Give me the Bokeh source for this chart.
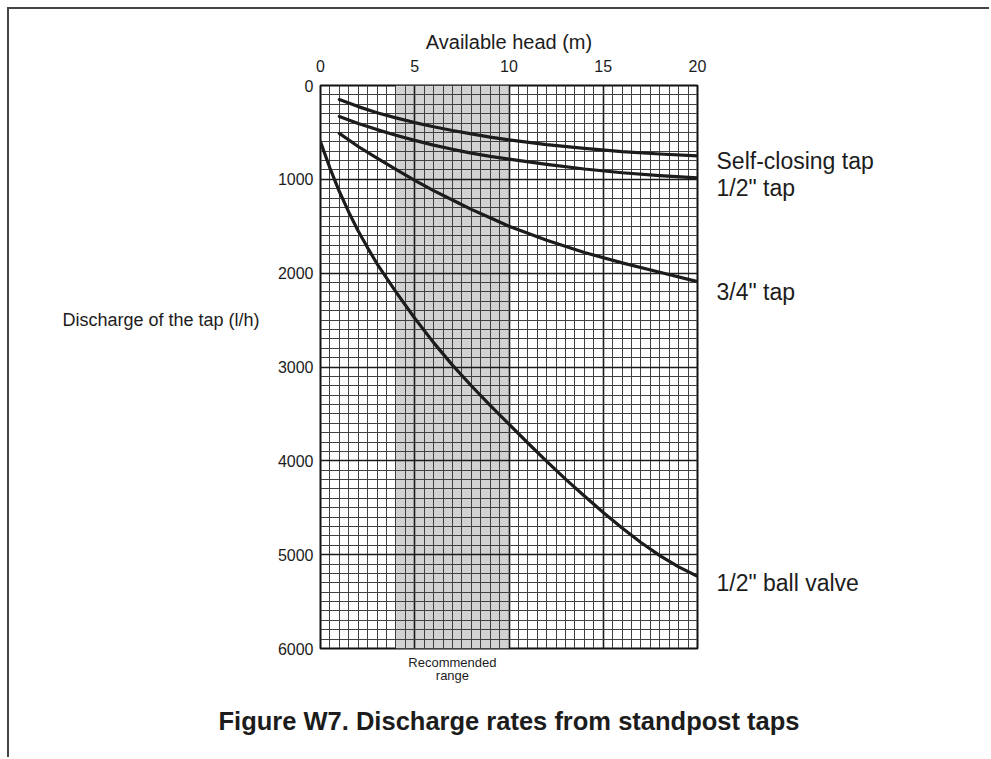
from bokeh.plotting import figure
from bokeh.models import Range1d, SingleIntervalTicker, FixedTicker, LinearAxis, Title
from bokeh.embed import file_html
from bokeh.resources import INLINE

# ---- data ----
x_ticks = [0, 5, 10, 15, 20]
y_ticks = [0, 1000, 2000, 3000, 4000, 5000, 6000]
x_limits = [0, 20]
y_limits = [0, 6000]
recommended = [4, 10]

tap_x = [1, 2, 3, 4, 5, 6, 7, 8, 9, 10, 12, 14, 16, 18, 20]
self_closing = [150, 225, 290, 345, 395, 440, 480, 515, 550, 580, 630, 670, 705, 730, 750]
half_tap = [330, 405, 470, 530, 585, 635, 680, 720, 755, 785, 840, 890, 930, 960, 985]
three_q_tap = [510, 650, 775, 895, 1010, 1120, 1220, 1320, 1410, 1500, 1650, 1780, 1890, 1990, 2090]

ball_x = [0, 0.5, 1, 1.5, 2, 2.5, 3, 4, 5, 6, 7, 8, 9, 10, 11, 12, 13, 14, 15, 16, 17, 18, 19, 20]
ball_valve = [600, 880, 1130, 1350, 1550, 1730, 1900, 2200, 2480, 2740, 2980, 3200, 3410, 3610,
              3810, 4005, 4195, 4375, 4550, 4715, 4870, 5010, 5130, 5230]

series_names = ["Self-closing tap", '1/2" tap', '3/4" tap', '1/2" ball valve']
label_y = [800, 1090, 2200, 5300]
y_title = "Discharge of the tap (l/h)"
y_title_pos = [2500]
note = "Recommended\nrange"
caption = "Figure W7. Discharge rates from standpost taps"

FONT = "Liberation Sans"
INK = "#1c1c1c"

p = figure(width=982, height=750, output_backend="svg", toolbar_location=None,
           x_range=Range1d(*x_limits), y_range=Range1d(y_limits[1], y_limits[0]),
           x_axis_location="above",
           min_border_left=311, min_border_right=294, min_border_top=76, min_border_bottom=111)
p.styles = {"margin-left": "7px", "margin-top": "7px",
            "border-left": "2px solid #444", "border-top": "2px solid #444"}
p.background_fill_color = "white"
p.border_fill_color = "white"
p.outline_line_color = "#111"
p.outline_line_width = 2

# grids
p.xgrid.ticker = SingleIntervalTicker(interval=5, num_minor_ticks=10)
p.ygrid.ticker = SingleIntervalTicker(interval=1000, num_minor_ticks=10)
for g in (p.xgrid, p.ygrid):
    g.grid_line_color = "#1a1a1a"
    g.grid_line_width = 1.6
    g.minor_grid_line_color = "#404040"
    g.minor_grid_line_width = 1


def plain(ax, size="16px"):
    ax.axis_line_color = None
    ax.major_tick_line_color = None
    ax.minor_tick_line_color = None
    ax.major_tick_out = 0
    ax.major_tick_in = 0
    ax.minor_tick_out = 0
    ax.minor_tick_in = 0
    ax.major_label_text_font = FONT
    ax.major_label_text_font_size = size
    ax.major_label_text_color = INK


# main axes
p.xaxis.ticker = x_ticks
p.yaxis.ticker = y_ticks
plain(p.xaxis[0])
plain(p.yaxis[0])
p.xaxis.major_label_standoff = 14
p.yaxis.major_label_standoff = 7
p.xaxis.axis_label = "Available head (m)"
p.xaxis.axis_label_text_font = FONT
p.xaxis.axis_label_text_font_size = "20px"
p.xaxis.axis_label_text_font_style = "normal"
p.xaxis.axis_label_text_color = INK
p.xaxis.axis_label_standoff = 4

# curve names on the right, as an axis of labels
right_ax = LinearAxis(ticker=FixedTicker(ticks=label_y),
                      major_label_overrides={v: n for v, n in zip(label_y, series_names)})
plain(right_ax, "23px")
right_ax.major_label_standoff = 19
p.add_layout(right_ax, "right")

# horizontal y title on the left
ytitle_ax = LinearAxis(ticker=FixedTicker(ticks=y_title_pos),
                       major_label_overrides={y_title_pos[0]: y_title})
plain(ytitle_ax, "18px")
ytitle_ax.major_label_standoff = 15
p.add_layout(ytitle_ax, "left")

# recommended range note below
note_pos = [sum(recommended) / 2]
note_ax = LinearAxis(ticker=FixedTicker(ticks=note_pos), major_label_overrides={note_pos[0]: note})
plain(note_ax, "13px")
note_ax.major_label_text_line_height = 0.9
note_ax.major_label_standoff = 6
p.add_layout(note_ax, "below")

# recommended range shading
shade = p.quad(left=[recommended[0]], right=[recommended[1]], top=[y_limits[0]], bottom=[y_limits[1]],
               fill_color="#d2d2d2", line_color=None)
shade.level = "image"

# curves
for xs, ys in ((tap_x, self_closing), (tap_x, half_tap), (tap_x, three_q_tap), (ball_x, ball_valve)):
    p.line(xs, ys, line_width=3.2, line_color=INK, line_join="round", line_cap="round")

# caption
p.add_layout(Title(text=caption, align="center", text_font=FONT, text_font_size="25.5px",
                   text_font_style="bold", text_color=INK, standoff=36), "below")

open("out.html", "w").write(file_html(p, INLINE))
